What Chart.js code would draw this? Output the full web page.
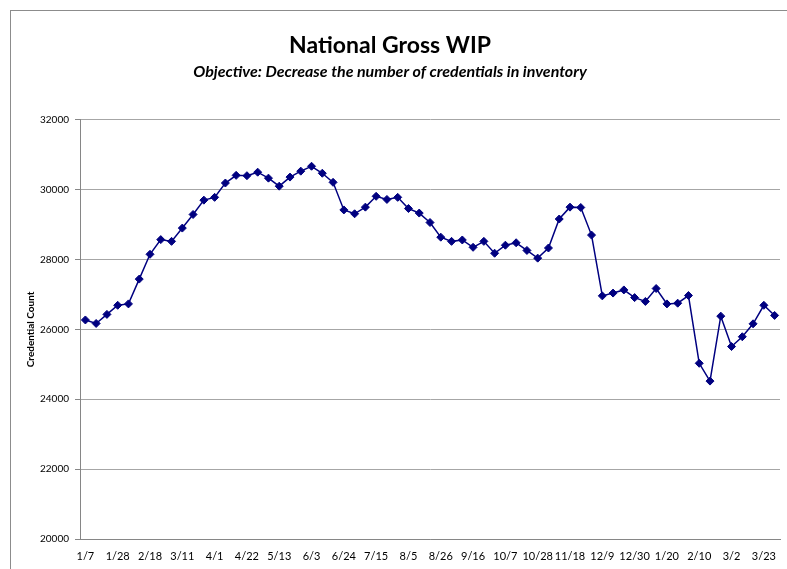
<!DOCTYPE html>
<html>
<head>
<meta charset="utf-8">
<script src="https://cdn.jsdelivr.net/npm/chart.js@4.4.1/dist/chart.umd.min.js"></script>
<style>
html, body { margin:0; padding:0; background:#fff; overflow:hidden; }
#frame { position:absolute; left:10px; top:10px; width:800px; height:600px; border:1px solid #8c8c8c; }
#wrap { position:absolute; left:0; top:0; width:787px; height:569px; }
</style>
</head>
<body>
<div id="frame"></div>
<div id="wrap"><canvas id="c" width="787" height="569"></canvas></div>
<script>
const weeks = ['1/7','1/14','1/21','1/28','2/4','2/11','2/18','2/25','3/4','3/11','3/18','3/25',
  '4/1','4/8','4/15','4/22','4/29','5/6','5/13','5/20','5/27','6/3','6/10','6/17','6/24',
  '7/1','7/8','7/15','7/22','7/29','8/5','8/12','8/19','8/26','9/2','9/9','9/16','9/23','9/30',
  '10/7','10/14','10/21','10/28','11/4','11/11','11/18','11/25','12/2','12/9','12/16','12/23','12/30',
  '1/6','1/13','1/20','1/27','2/3','2/10','2/17','2/24','3/2','3/9','3/16','3/23','3/30'];

const wip = [26270,26170,26430,26690,26730,27440,28150,28570,28520,28900,29290,29700,29780,
  30190,30410,30400,30500,30330,30100,30360,30530,30670,30470,30210,29420,29310,29500,29810,
  29720,29780,29460,29330,29060,28640,28520,28560,28350,28520,28180,28410,28480,28260,28040,
  28330,29160,29500,29490,28700,26960,27040,27130,26910,26800,27170,26730,26750,26970,
  25030,24520,26380,25510,25790,26160,26690,26400];

const yMin = 20000, yMax = 32000, yStep = 2000;

const NAVY = '#000080';
const FONT = 'Lato, "Open Sans", sans-serif';

new Chart(document.getElementById('c'), {
  type: 'line',
  data: {
    labels: weeks,
    datasets: [{
      label: 'National Gross WIP',
      data: wip,
      borderColor: NAVY,
      backgroundColor: NAVY,
      borderWidth: 1.5,
      pointStyle: 'rectRot',
      pointRadius: 4,
      pointBorderWidth: 1,
      tension: 0
    }]
  },
  options: {
    responsive: false,
    animation: false,
    layout: { padding: { left: 0, right: 7, top: 0, bottom: 0 } },
    plugins: {
      legend: { display: false },
      tooltip: { enabled: false },
      title: {
        display: true,
        text: 'National Gross WIP',
        color: '#000',
        font: { family: FONT, size: 23, weight: 'bold', lineHeight: 1.2 },
        padding: { top: 32, bottom: 3 }
      },
      subtitle: {
        display: true,
        text: 'Objective: Decrease the number of credentials in inventory',
        color: '#000',
        font: { family: FONT, size: 16, weight: 'bold', style: 'italic', lineHeight: 1.2 },
        padding: { top: 0, bottom: 38 }
      }
    },
    scales: {
      x: {
        offset: true,
        grid: { display: false, drawTicks: false },
        border: { display: true, color: '#868686', width: 1 },
        ticks: {
          autoSkip: false,
          maxRotation: 0,
          padding: 11,
          color: '#000',
          font: { family: FONT, size: 11 },
          callback: function(v, i) { return i % 3 === 0 ? this.getLabelForValue(v) : ''; }
        },
        afterFit: s => { s.height = 30; }
      },
      y: {
        min: yMin,
        max: yMax,
        grid: { color: '#a6a6a6', lineWidth: 1, drawTicks: true, tickLength: 5, tickColor: '#868686' },
        border: { display: true, color: '#868686', width: 1 },
        ticks: {
          stepSize: yStep,
          padding: 6,
          color: '#000',
          font: { family: FONT, size: 10 },
          callback: v => String(v)
        },
        title: {
          display: true,
          text: 'Credential Count',
          color: '#000',
          font: { family: FONT, size: 10, weight: 'bold' },
          padding: { top: 25, bottom: 0 }
        },
        afterFit: s => { s.width = 80; }
      }
    }
  }
});
</script>
</body>
</html>
